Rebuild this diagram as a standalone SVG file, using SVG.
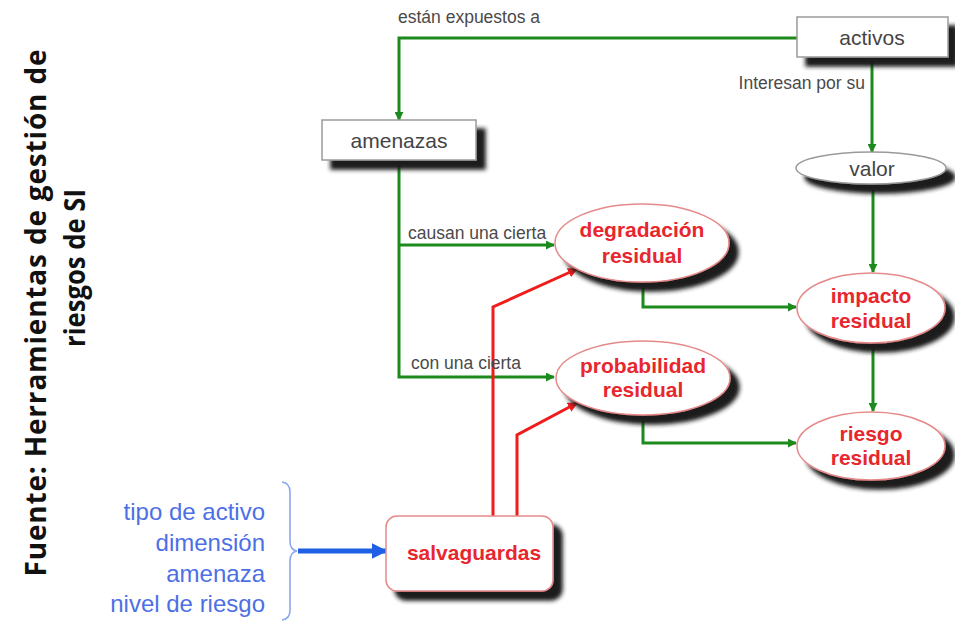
<svg xmlns="http://www.w3.org/2000/svg" width="955" height="622" viewBox="0 0 955 622">
  <defs>
    <filter id="shadow" x="-20%" y="-30%" width="150%" height="190%">
      <feGaussianBlur in="SourceAlpha" stdDeviation="2"/>
      <feOffset dx="9" dy="9" result="off"/>
      <feFlood flood-color="#1a1a1a"/>
      <feComposite in2="off" operator="in" result="sh"/>
      <feMerge>
        <feMergeNode in="sh"/>
        <feMergeNode in="SourceGraphic"/>
      </feMerge>
    </filter>
    <marker id="arrowGreen" viewBox="0 0 10 10" refX="9" refY="5" markerWidth="9" markerHeight="9" markerUnits="userSpaceOnUse" orient="auto">
      <path d="M0,0 L10,5 L0,10 z" fill="#1d8a1d"/>
    </marker>
    <marker id="arrowRed" viewBox="0 0 10 10" refX="9" refY="5" markerWidth="10" markerHeight="10" markerUnits="userSpaceOnUse" orient="auto">
      <path d="M0,0 L10,5 L0,10 z" fill="#f01c1c"/>
    </marker>
    <marker id="arrowBlue" viewBox="0 0 10 10" refX="9" refY="5" markerWidth="16" markerHeight="16" markerUnits="userSpaceOnUse" orient="auto">
      <path d="M0,0 L10,5 L0,10 z" fill="#1f5fe6"/>
    </marker>
  </defs>
  <style>
    .box { fill: #fff; stroke: #9a9a9a; stroke-width: 1.5; filter: url(#shadow); }
    .oval { fill: #fff; stroke: #e58a8a; stroke-width: 1.5; filter: url(#shadow); }
    .plain { font-family: "Liberation Sans", Arial, sans-serif; font-size: 21px; fill: #444; text-anchor: middle; }
    .res { font-family: "Liberation Sans", Arial, sans-serif; font-size: 21px; font-weight: bold; fill: #e8262e; text-anchor: middle; }
    .lbl { font-family: "Liberation Sans", Arial, sans-serif; font-size: 17.5px; fill: #4a4a4a; }
    .crit { font-family: "Liberation Sans", Arial, sans-serif; font-size: 24px; fill: #4d6fe6; text-anchor: end; }
    .src { font-family: "Open Sans", "Liberation Sans", sans-serif; font-size: 28px; font-weight: bold; fill: #111; text-anchor: middle; }
    .g { fill: none; stroke: #1d8a1d; stroke-width: 3; marker-end: url(#arrowGreen); }
    .r { fill: none; stroke: #f01c1c; stroke-width: 3; marker-end: url(#arrowRed); }
  </style>

  <!-- source caption, rotated -->
  <g id="caption">
    <text class="src" transform="translate(46,313) rotate(-90)" textLength="527" lengthAdjust="spacing">Fuente: Herramientas de gestión de</text>
    <text class="src" transform="translate(85,268) rotate(-90)" textLength="158" lengthAdjust="spacingAndGlyphs">riesgos de SI</text>
  </g>

  <!-- connectors -->
  <g id="connectors">
    <path class="g" d="M797,38 H399 V120"/>
    <path class="g" d="M872,57 V152"/>
    <path class="g" d="M399,160 V377 H554"/>
    <path class="g" d="M399,245 H554"/>
    <path class="g" d="M873,184 V272"/>
    <path class="g" d="M643,282 V307 H796"/>
    <path class="g" d="M873,343 V411"/>
    <path class="g" d="M643,415 V443 H796"/>
    <path class="r" d="M493,517 V307 L577,269"/>
    <path class="r" d="M517,517 V435 L577,403"/>
    <path fill="none" stroke="#8aa8f0" stroke-width="1.6" d="M282,482 Q290,483 290,492 V541 Q290,550 297,551 Q290,552 290,561 V610 Q290,619 282,620"/>
    <path fill="none" stroke="#1f5fe6" stroke-width="5" marker-end="url(#arrowBlue)" d="M298,551 H386"/>
  </g>

  <!-- connector labels -->
  <g id="labels">
    <text class="lbl" x="398" y="23">están expuestos a</text>
    <text class="lbl" x="865" y="89" text-anchor="end">Interesan por su</text>
    <text class="lbl" x="408" y="239">causan una cierta</text>
    <text class="lbl" x="411" y="369">con una cierta</text>
  </g>

  <g id="activos">
    <rect class="box" x="797" y="17" width="151" height="40"/>
    <text class="plain" x="872" y="45">activos</text>
  </g>

  <g id="amenazas">
    <rect class="box" x="322" y="120" width="154" height="40"/>
    <text class="plain" x="399" y="148">amenazas</text>
  </g>

  <g id="valor">
    <ellipse cx="871" cy="168" rx="75" ry="16" fill="#fff" stroke="#9a9a9a" stroke-width="1.5" filter="url(#shadow)"/>
    <text class="plain" x="872" y="176">valor</text>
  </g>

  <g id="degradacion">
    <ellipse class="oval" cx="642" cy="243" rx="87" ry="39"/>
    <text class="res" x="642" y="237">degradación</text>
    <text class="res" x="642" y="263">residual</text>
  </g>

  <g id="impacto">
    <ellipse class="oval" cx="871" cy="308" rx="74" ry="35"/>
    <text class="res" x="871" y="303">impacto</text>
    <text class="res" x="871" y="328">residual</text>
  </g>

  <g id="probabilidad">
    <ellipse class="oval" cx="643" cy="378" rx="87" ry="37"/>
    <text class="res" x="643" y="373">probabilidad</text>
    <text class="res" x="643" y="397">residual</text>
  </g>

  <g id="riesgo">
    <ellipse class="oval" cx="871" cy="446" rx="74" ry="34"/>
    <text class="res" x="871" y="441">riesgo</text>
    <text class="res" x="871" y="465">residual</text>
  </g>

  <g id="salvaguardas">
    <rect class="oval" x="386" y="516" width="167" height="75" rx="11"/>
    <text class="res" x="474" y="560" font-size="20">salvaguardas</text>
  </g>

  <g id="criterios">
    <text class="crit" x="265" y="520">tipo de activo</text>
    <text class="crit" x="265" y="551">dimensión</text>
    <text class="crit" x="265" y="582">amenaza</text>
    <text class="crit" x="265" y="612">nivel de riesgo</text>
  </g>
</svg>
